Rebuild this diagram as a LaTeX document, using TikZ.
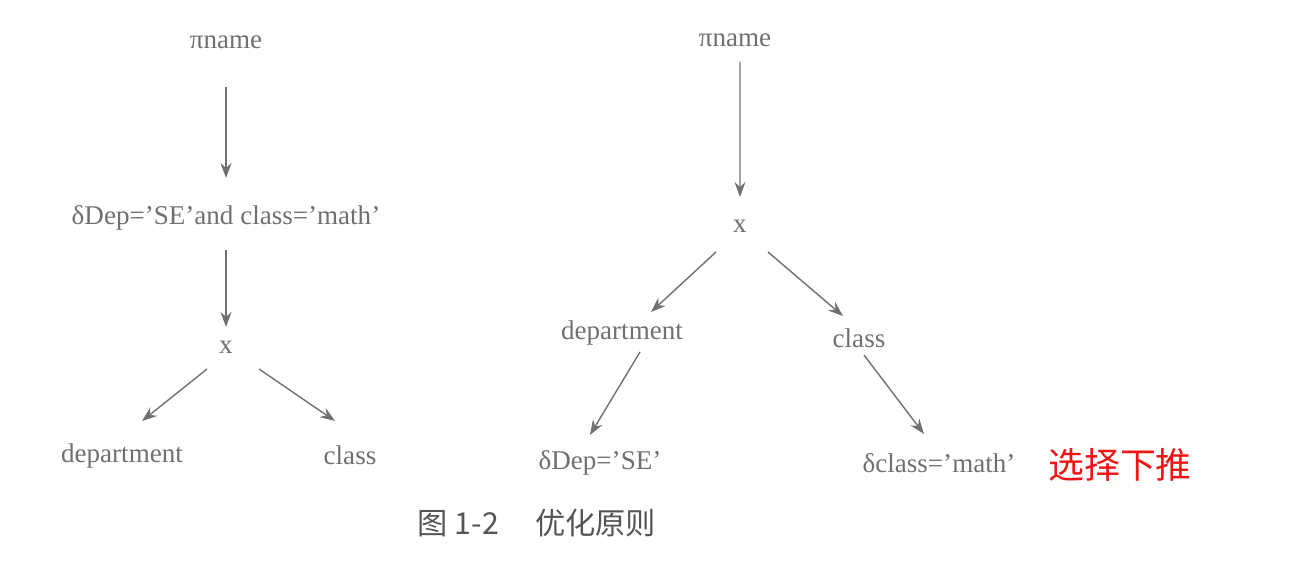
\documentclass[tikz,border=0pt]{standalone}
\usepackage{fontspec}
\setmainfont{Liberation Serif}
\newfontfamily\cjk{Noto Sans CJK SC}
\usetikzlibrary{arrows.meta,positioning}

\definecolor{txtgray}{RGB}{112,112,112}
\definecolor{capgray}{RGB}{85,85,85}
\definecolor{pushred}{RGB}{240,20,20}

\begin{document}
\begin{tikzpicture}[
    op/.style = {text=txtgray, font=\fontsize{7.7}{9}\selectfont, inner sep=1pt},
    flow/.style = {draw=txtgray, line width=0.4pt,
                   -{Stealth[length=1.5mm,width=1.1mm,inset=0.5mm]}}
  ]
  \useasboundingbox (0,0) rectangle (13.10,5.71);

  % left tree
  \node [op] (pnameL) at (2.26,5.29) {πname};
  \node [op] (selL)   at (2.26,3.53) {δDep=’SE’and class=’math’};
  \node [op] (xL)     at (2.26,2.24) {x};
  \node [op] (deptL)  at (1.22,1.15) {department};
  \node [op] (classL) at (3.50,1.16) {class};

  \draw [flow] ([yshift=-4.5mm]pnameL.center) -- ([yshift=4mm]selL.center);
  \draw [flow] ([yshift=-3.2mm]selL.center) -- ([yshift=2mm]xL.center);
  \draw [flow] ([shift={(-0.19,-0.22)}]xL.center) -- ([shift={(0.20,0.35)}]deptL.center);
  \draw [flow] ([shift={(0.33,-0.22)}]xL.center) -- ([shift={(-0.15,0.34)}]classL.center);

  % right tree
  \node [op] (pnameR)   at (7.35,5.31) {πname};
  \node [op] (xR)       at (7.40,3.45) {x};
  \node [op] (deptR)    at (6.22,2.38) {department};
  \node [op] (classR)   at (8.59,2.33) {class};
  \node [op] (selDep)   at (6.00,1.08) {δDep=’SE’};
  \node [op] (selClass) at (9.39,1.08) {δclass=’math’};

  \draw [flow] ([shift={(0.05,-0.22)}]pnameR.center) -- ([yshift=2.9mm]xR.center);
  \draw [flow] ([shift={(-0.24,-0.26)}]xR.center) -- ([shift={(0.29,0.21)}]deptR.center);
  \draw [flow] ([shift={(0.28,-0.26)}]xR.center) -- ([shift={(-0.16,0.22)}]classR.center);
  \draw [flow] ([shift={(0.18,-0.19)}]deptR.center) -- ([shift={(-0.10,0.28)}]selDep.center);
  \draw [flow] ([shift={(0.05,-0.17)}]classR.center) -- ([shift={(-0.15,0.29)}]selClass.center);

  \node [text=pushred, font=\cjk\fontsize{10.2}{12}\selectfont] (push) at (11.20,1.06) {选择下推};
  \node [text=capgray, font=\cjk\fontsize{8.6}{10}\selectfont] (caption) at (5.37,0.48)
    {图 1-2\hspace{1.2em}优化原则};
\end{tikzpicture}
\end{document}
